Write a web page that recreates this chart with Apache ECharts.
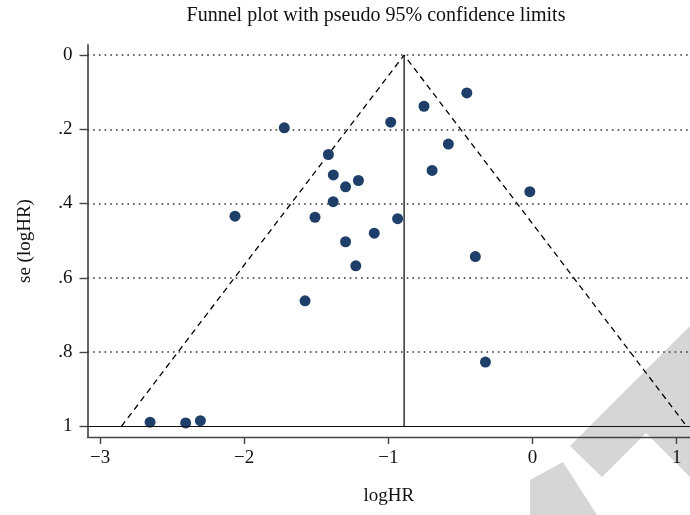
<!DOCTYPE html>
<html>
<head>
<meta charset="utf-8">
<script src="https://cdn.jsdelivr.net/npm/echarts@6/dist/echarts.min.js"></script>
<style>
html, body { margin: 0; padding: 0; background: #fff; }
#main { width: 690px; height: 515px; }
</style>
</head>
<body>
<div id="main"></div>
<script>
// study estimates
var logHR = [-0.456, -0.753, -1.722, -0.984, -0.584, -1.416, -0.697, -1.382,
    -1.208, -1.297, -0.019, -1.383, -2.064, -1.509, -0.936, -1.098,
    -1.297, -0.397, -1.226, -1.578, -0.327, -2.653, -2.406, -2.304];
var seLogHR = [0.102, 0.138, 0.196, 0.181, 0.240, 0.268, 0.311, 0.323,
    0.338, 0.355, 0.368, 0.395, 0.434, 0.437, 0.441, 0.480,
    0.503, 0.543, 0.568, 0.662, 0.827, 0.989, 0.991, 0.985];
var pooledLogHR = -0.891;
var z95 = 1.96;
var seMax = 1;
var xTicks = [-3, -2, -1, 0, 1];
var yTicks = [0, 0.2, 0.4, 0.6, 0.8, 1];
var gridTicks = [0, 0.2, 0.4, 0.6, 0.8];

var serif = 'Liberation Serif';

var points = [];
for (var i = 0; i < logHR.length; i++) {
    points.push([logHR[i], seLogHR[i]]);
}

var funnel = [
    [pooledLogHR - z95 * seMax, seMax],
    [pooledLogHR, 0],
    [pooledLogHR + z95 * seMax, seMax]
];

var gridLines = gridTicks.map(function (v) {
    return { yAxis: v, lineStyle: { type: [1.6, 4.1], width: 1.6, color: '#333' } };
});
gridLines.push({ yAxis: seMax, lineStyle: { type: 'solid', width: 1.2, color: '#111' } });

var myChart = echarts.init(document.getElementById('main'));
var option = {
    animation: false,
    backgroundColor: '#fff',
    title: {
        text: 'Funnel plot with pseudo 95% confidence limits',
        left: 371,
        top: 1,
        textAlign: 'center',
        textStyle: { fontFamily: serif, fontSize: 20, fontWeight: 'normal', color: '#111' }
    },
    graphic: [
        // grey watermark in the lower right corner
        { type: 'polygon', z: -10, shape: { points: [[570, 446], [690, 326], [690, 477], [646, 433], [602, 477]] },
          style: { fill: '#d6d6d6' } },
        { type: 'polygon', z: -10, shape: { points: [[530, 480], [563, 462], [597, 515], [530, 515]] },
          style: { fill: '#d6d6d6' } }
    ],
    grid: { left: 87.5, right: 0, top: 45, bottom: 78, outerBoundsMode: 'none' },
    xAxis: {
        type: 'value',
        min: -3.087,
        max: 1.092,
        name: 'logHR',
        nameLocation: 'middle',
        nameGap: 50,
        nameTextStyle: { fontFamily: serif, fontSize: 19, color: '#111' },
        axisLine: { show: true, onZero: false, lineStyle: { color: '#444', width: 1.4 } },
        axisTick: { show: true, customValues: xTicks, length: 7, lineStyle: { color: '#444', width: 1.4 } },
        axisLabel: {
            customValues: xTicks,
            margin: 12,
            fontFamily: serif,
            fontSize: 19,
            color: '#111',
            formatter: function (v) { return String(v).replace('-', '\u2212'); }
        },
        splitLine: { show: false }
    },
    yAxis: {
        type: 'value',
        inverse: true,
        min: -0.027,
        max: 1.029,
        name: 'se (logHR)',
        nameLocation: 'middle',
        nameGap: 53,
        nameTextStyle: { fontFamily: serif, fontSize: 19, color: '#111' },
        axisLine: { show: true, onZero: false, lineStyle: { color: '#555', width: 1.8 } },
        axisTick: { show: true, customValues: yTicks, length: 8, lineStyle: { color: '#444', width: 1.4 } },
        axisLabel: {
            customValues: yTicks,
            margin: 15,
            fontFamily: serif,
            fontSize: 19,
            color: '#111',
            formatter: function (v) {
                if (v === 0 || v === 1) return String(v);
                return String(v).replace('0.', '.');
            }
        },
        splitLine: { show: false }
    },
    series: [
        {
            name: 'grid',
            type: 'line',
            data: [],
            markLine: {
                silent: true,
                symbol: 'none',
                label: { show: false },
                data: gridLines
            }
        },
        {
            name: 'pseudo 95% limits',
            type: 'line',
            data: funnel,
            symbol: 'none',
            lineStyle: { color: '#000', width: 1.3, type: [6, 4.5] },
            z: 2
        },
        {
            name: 'pooled',
            type: 'line',
            data: [[pooledLogHR, 0], [pooledLogHR, seMax]],
            symbol: 'none',
            lineStyle: { color: '#000', width: 1.2 },
            z: 2
        },
        {
            name: 'studies',
            type: 'scatter',
            data: points,
            symbolSize: 11,
            itemStyle: { color: '#1f3f6b', opacity: 1 },
            z: 3
        }
    ]
};
myChart.setOption(option);
</script>
</body>
</html>
